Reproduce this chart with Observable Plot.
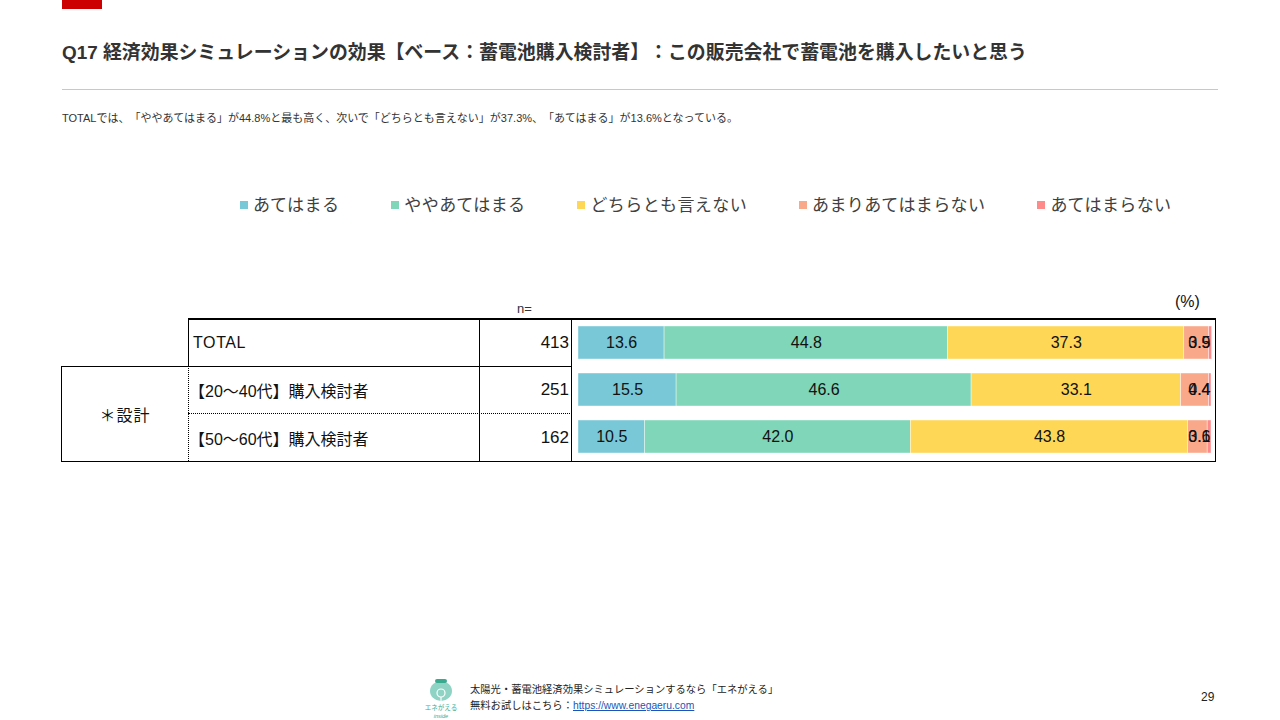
<!DOCTYPE html>
<html>
<head>
<meta charset="utf-8">
<script src="https://cdn.jsdelivr.net/npm/d3@7"></script>
<script src="https://cdn.jsdelivr.net/npm/@observablehq/plot@0.6"></script>
<style>
  html, body { margin: 0; padding: 0; background: #fff; }
  body { width: 1280px; height: 720px; position: relative; overflow: hidden; text-spacing-trim: space-all;
         font-family: "Liberation Sans", "Noto Sans CJK JP", sans-serif; color: #222; }
  .abs { position: absolute; }
  .redbar { left: 62px; top: 0; width: 40px; height: 9px; background: #CC0000; }
  .title { left: 62px; top: 41px; font-size: 18.9px; line-height: 24px; font-weight: bold; color: #333;
           font-family: "Liberation Sans", "Noto Sans CJK JP", sans-serif; white-space: nowrap; }
  .hr { left: 62px; top: 89px; width: 1156px; height: 1px; background: #c8c8c8; }
  .subtitle { left: 62px; top: 111px; font-size: 11px; line-height: 14px; color: #333; white-space: nowrap; }
  .legend { left: 240px; top: 192px; display: flex; gap: 52px; font-size: 17px; letter-spacing: 0.4px; line-height: 24px; color: #404040;
            font-family: "Noto Sans CJK JP", sans-serif; }
  .legend .item { display: flex; align-items: center; white-space: nowrap; }
  .legend .sw { width: 8px; height: 8px; margin-right: 5px; margin-top: 2px; }
  .line { background: #000; }
  .cell { display: flex; align-items: center; font-size: 16px; white-space: nowrap; color: #111; }
  .footer { left: 470px; font-size: 10.3px; line-height: 14px; color: #222; white-space: nowrap; }
  .footer a { color: #1a56b8; text-decoration: underline; }
</style>
</head>
<body>
<div class="abs redbar"></div>
<div class="abs title" id="title"></div>
<div class="abs hr"></div>
<div class="abs subtitle" id="subtitle"></div>
<div class="abs legend" id="legend"></div>
<div class="abs" style="left:517px;top:301px;font-size:13px;line-height:16px;color:#333;">n=</div>
<div class="abs" style="left:1175px;top:293px;font-size:16px;line-height:18px;color:#111;">(%)</div>
<div id="table"></div>
<div class="abs" id="chart" style="left:572px;top:319px;"></div>

<svg class="abs" style="left:424px;top:676px;" width="36" height="44" viewBox="0 0 36 44">
  <ellipse cx="17" cy="15" rx="11" ry="10" fill="#8fd3c4"/>
  <rect x="11" y="3" width="12" height="4" rx="2" fill="#3aaa8f"/>
  <circle cx="17" cy="17" r="4" fill="none" stroke="#fff" stroke-width="1.2"/>
  <line x1="17" y1="21" x2="17" y2="25" stroke="#fff" stroke-width="1.2"/>
  <text x="17" y="34" font-size="6.5" fill="#3aaa8f" text-anchor="middle" font-family="Noto Sans CJK JP">エネがえる</text>
  <text x="17" y="42" font-size="5.5" fill="#3aaa8f" text-anchor="middle" font-style="italic" font-family="Liberation Sans">inside</text>
</svg>
<div class="abs footer" style="top:683px;">太陽光・蓄電池経済効果シミュレーションするなら「エネがえる」</div>
<div class="abs footer" style="top:699px;">無料お試しはこちら：<a>https://www.enegaeru.com</a></div>
<div class="abs" style="left:1201px;top:689px;font-size:12px;line-height:16px;color:#222;">29</div>

<script>
// ---- data ----
const titleText = "Q17 経済効果シミュレーションの効果【ベース：蓄電池購入検討者】：この販売会社で蓄電池を購入したいと思う";
const subtitleText = "TOTALでは、「ややあてはまる」が44.8%と最も高く、次いで「どちらとも言えない」が37.3%、「あてはまる」が13.6%となっている。";
const groupLabel = "＊設計";
const rows = ["TOTAL", "【20～40代】購入検討者", "【50～60代】購入検討者"];
const nValues = [413, 251, 162];
const categories = ["あてはまる", "ややあてはまる", "どちらとも言えない", "あまりあてはまらない", "あてはまらない"];
const colors = ["#78c8d7", "#7fd6b8", "#ffd757", "#f9a98a", "#ff8a8a"];
const sAtehamaru     = [13.6, 15.5, 10.5];
const sYaya          = [44.8, 46.6, 42.0];
const sDochira       = [37.3, 33.1, 43.8];
const sAmari         = [3.9, 4.4, 3.1];
const sAtehamaranai  = [0.5, 0.4, 0.6];
const series = [sAtehamaru, sYaya, sDochira, sAmari, sAtehamaranai];

// ---- long table ----
const data = [];
rows.forEach((r, i) => categories.forEach((c, j) => data.push({row: r, category: c, value: series[j][i]})));

document.getElementById("title").textContent = titleText;
document.getElementById("subtitle").textContent = subtitleText;

// legend
const lg = document.getElementById("legend");
categories.forEach((c, j) => {
  const it = document.createElement("div"); it.className = "item";
  const sw = document.createElement("div"); sw.className = "sw"; sw.style.background = colors[j];
  const tx = document.createElement("span"); tx.textContent = c;
  it.appendChild(sw); it.appendChild(tx); lg.appendChild(it);
});

// table
const tb = document.getElementById("table");
function box(style, cls, text) {
  const d = document.createElement("div");
  d.className = "abs " + (cls || "");
  d.setAttribute("style", style);
  if (text != null) d.textContent = text;
  tb.appendChild(d);
  return d;
}
// lines
box("left:188px;top:318px;width:1028px;height:2px;", "line");
box("left:1215px;top:318px;width:1px;height:144px;", "line");
box("left:61px;top:461px;width:1155px;height:1px;", "line");
box("left:61px;top:366px;width:1px;height:96px;", "line");
box("left:188px;top:318px;width:1px;height:48px;", "line");
box("left:188px;top:366px;width:0;height:95px;border-left:1px dotted #000;");
box("left:479px;top:318px;width:1px;height:144px;", "line");
box("left:571px;top:318px;width:1px;height:144px;", "line");
box("left:61px;top:366px;width:511px;height:1px;", "line");
box("left:188px;top:413px;width:384px;height:0;border-top:1px dotted #000;");
// texts
const rowTops = [320, 367, 414];
const rowH = [46, 46, 47];
rows.forEach((r, i) => {
  box(`left:${r === "TOTAL" ? 193 : 189}px;top:${rowTops[i]}px;height:${rowH[i]}px;` + (r === "TOTAL" ? "letter-spacing:0.6px;" : ""), "cell", r);
  box(`left:480px;width:89px;top:${rowTops[i]}px;height:${rowH[i]}px;justify-content:flex-end;font-size:17px;`, "cell", String(nValues[i]));
});
box("left:62px;width:126px;top:367px;height:94px;justify-content:center;letter-spacing:1px;font-family:'Noto Sans CJK JP';", "cell", groupLabel);

// chart
const chart = Plot.plot({
  width: 644,
  height: 141,
  marginLeft: 6,
  marginRight: 5,
  marginTop: 0,
  marginBottom: 0,
  style: {fontFamily: "Liberation Sans, Arial, sans-serif", background: "transparent", overflow: "visible"},
  x: {domain: [0, 100], axis: null},
  y: {domain: rows, axis: null, paddingInner: 0.3, paddingOuter: 0.15},
  color: {domain: categories, range: colors},
  marks: [
    Plot.barX(data, Plot.stackX({x: "value", y: "row", fill: "category", order: categories, stroke: "#ffffff", strokeWidth: 0.6, strokeOpacity: 0.7})),
    Plot.text(data, Plot.stackX({x: "value", y: "row", z: "category", order: categories,
      text: d => d.value >= 5 ? d.value.toFixed(1) : "", fontSize: 16, fill: "#111"})),
    Plot.text(data.filter(d => d.value < 5), {y: "row", text: d => d.value.toFixed(1),
      frameAnchor: "right", textAnchor: "end", dx: -1, fontSize: 16, fill: "#111"})
  ]
});
document.getElementById("chart").appendChild(chart);
</script>
</body>
</html>
